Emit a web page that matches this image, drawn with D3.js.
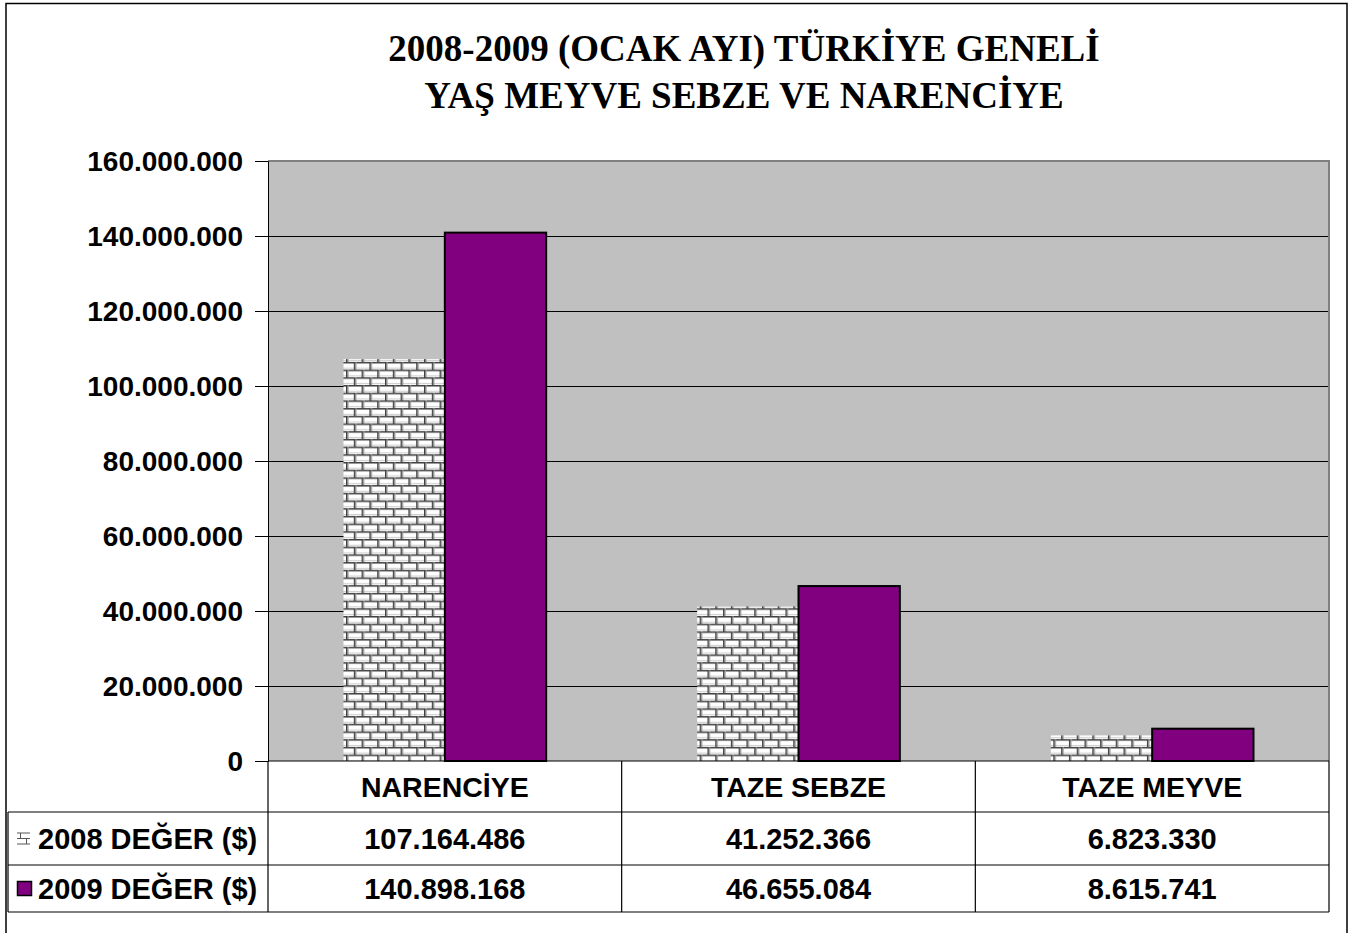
<!DOCTYPE html>
<html>
<head>
<meta charset="utf-8">
<script src="https://cdn.jsdelivr.net/npm/d3@7"></script>
<style>
  html, body { margin: 0; padding: 0; background: #fff; }
  svg { display: block; }
</style>
</head>
<body>
<svg id="chart" width="1352" height="933"></svg>
<script>
const titleLines = ["2008-2009 (OCAK AYI) TÜRKİYE GENELİ", "YAŞ MEYVE SEBZE VE NARENCİYE"];
const categories = ["NARENCİYE", "TAZE SEBZE", "TAZE MEYVE"];
const seriesNames = ["2008 DEĞER ($)", "2009 DEĞER ($)"];
const values2008 = [107164486, 41252366, 6823330];
const values2009 = [140898168, 46655084, 8615741];
const yTicks = [0, 20000000, 40000000, 60000000, 80000000, 100000000, 120000000, 140000000, 160000000];

const seriesValues = [values2008, values2009];

const svg = d3.select("#chart");
const plot = { left: 268, right: 1329, top: 161, bottom: 761 };
const tableRows = [812, 865, 912];
const tableLeft = 8;
const sans = "'Liberation Sans', Arial, sans-serif";
const serif = "'Liberation Serif', 'Times New Roman', serif";

const locale = d3.formatLocale({ decimal: ",", thousands: ".", grouping: [3], currency: ["", "$"] });
const fmt = locale.format(",.0f");

// pattern
const defs = svg.append("defs");
const pw = 15.6, ph = 15.4, rh = ph / 2;
const pat = defs.append("pattern").attr("id", "brick")
  .attr("patternUnits", "userSpaceOnUse").attr("width", pw).attr("height", ph);
pat.append("rect").attr("width", pw).attr("height", ph).attr("fill", "#ffffff");
[0, rh].forEach((y0, i) => {
  pat.append("rect").attr("x", 0).attr("y", y0 + rh - 2).attr("width", pw).attr("height", 1.2).attr("fill", "#d0d0d0");
  pat.append("rect").attr("x", 0).attr("y", y0).attr("width", pw).attr("height", 1.5).attr("fill", "#404040");
  const vx = i === 0 ? [0] : [pw / 2];
  vx.forEach(x => {
    pat.append("rect").attr("x", x).attr("y", y0).attr("width", 1.6).attr("height", rh).attr("fill", "#404040");
    pat.append("rect").attr("x", x + 1.6).attr("y", y0).attr("width", 1).attr("height", rh).attr("fill", "#a0a0a0");
  });
});

const fills = ["url(#brick)", "#800080"];

// outer border
svg.append("path")
  .attr("d", `M6,933 L6,3.5 L1347,3.5 L1347,933`)
  .attr("fill", "none").attr("stroke", "#000").attr("stroke-width", 1.5);

// title
svg.append("g").selectAll("text").data(titleLines).join("text")
  .attr("x", 744).attr("y", (d, i) => 61 + i * 47)
  .attr("text-anchor", "middle")
  .attr("font-family", serif).attr("font-weight", "bold").attr("font-size", 37)
  .text(d => d);

// scales
const x0 = d3.scaleBand().domain(categories).range([plot.left, plot.right]).paddingInner(0).paddingOuter(0);
const x1 = d3.scaleBand().domain(seriesNames).range([0, x0.bandwidth()]).paddingInner(0).paddingOuter(0.745);
const y = d3.scaleLinear().domain([0, 160000000]).range([plot.bottom, plot.top]);

// plot background
svg.append("rect").attr("x", plot.left).attr("y", plot.top)
  .attr("width", plot.right - plot.left).attr("height", plot.bottom - plot.top)
  .attr("fill", "#c0c0c0");

// grid lines
svg.append("g").selectAll("line").data(yTicks.filter(v => v > 0 && v < 160000000)).join("line")
  .attr("x1", plot.left).attr("x2", plot.right)
  .attr("y1", d => Math.round(y(d)) + 0.5).attr("y2", d => Math.round(y(d)) + 0.5)
  .attr("stroke", "#000").attr("stroke-width", 1);

// plot border top/right (grey)
svg.append("path")
  .attr("d", `M${plot.left},${plot.top} L${plot.right},${plot.top} L${plot.right},${plot.bottom}`)
  .attr("fill", "none").attr("stroke", "#808080").attr("stroke-width", 2);

// bars
const groups = svg.append("g").selectAll("g").data(categories).join("g")
  .attr("transform", d => `translate(${x0(d)},0)`);
groups.selectAll("rect").data((c, ci) => seriesNames.map((s, si) => ({ s, si, v: seriesValues[si][ci] })))
  .join("rect")
  .attr("x", d => x1(d.s))
  .attr("width", x1.bandwidth())
  .attr("y", d => y(d.v))
  .attr("height", d => y(0) - y(d.v))
  .attr("fill", d => fills[d.si])
  .attr("stroke", d => d.si === 1 ? "#000" : "none")
  .attr("stroke-width", 2);

// y axis
const yAxis = d3.axisLeft(y).tickValues(yTicks).tickSize(13).tickPadding(12).tickFormat(d => fmt(d));
const ya = svg.append("g").attr("transform", `translate(${plot.left},0)`).call(yAxis);
ya.select(".domain").attr("stroke", "#000").attr("stroke-width", 1);
ya.selectAll(".tick line").attr("stroke", "#000");
ya.selectAll(".tick text").attr("font-family", sans).attr("font-weight", "bold")
  .attr("font-size", 28).attr("fill", "#000").attr("dy", "0.35em");

// data table
const tbl = svg.append("g").attr("stroke", "#000").attr("stroke-width", 1.2);
tbl.append("line").attr("x1", plot.left).attr("x2", plot.right).attr("y1", plot.bottom).attr("y2", plot.bottom);
tableRows.forEach(yy => {
  tbl.append("line").attr("x1", tableLeft).attr("x2", plot.right).attr("y1", yy).attr("y2", yy);
});
tbl.append("line").attr("x1", tableLeft).attr("x2", tableLeft).attr("y1", tableRows[0]).attr("y2", tableRows[2]);
const colEdges = [plot.left, ...categories.map(c => x0(c) + x0.bandwidth())];
colEdges.forEach(xx => {
  tbl.append("line").attr("x1", xx).attr("x2", xx).attr("y1", plot.bottom).attr("y2", tableRows[2]);
});

// category labels
svg.append("g").selectAll("text").data(categories).join("text")
  .attr("x", d => x0(d) + x0.bandwidth() / 2)
  .attr("y", (plot.bottom + tableRows[0]) / 2)
  .attr("dy", "0.36em")
  .attr("text-anchor", "middle")
  .attr("font-family", sans).attr("font-weight", "bold").attr("font-size", 28.5)
  .text(d => d);

// value rows
const rowCenters = [(tableRows[0] + tableRows[1]) / 2, (tableRows[1] + tableRows[2]) / 2];
seriesNames.forEach((s, si) => {
  svg.append("g").selectAll("text").data(categories).join("text")
    .attr("x", d => x0(d) + x0.bandwidth() / 2)
    .attr("y", rowCenters[si])
    .attr("dy", "0.36em")
    .attr("text-anchor", "middle")
    .attr("font-family", sans).attr("font-weight", "bold").attr("font-size", 29)
    .text((d, ci) => fmt(seriesValues[si][ci]));
  if (si === 0) {
    const k = svg.append("g").attr("transform", `translate(17,${rowCenters[si] - 6})`).attr("stroke", "#555").attr("stroke-width", 1).attr("fill", "none");
    k.append("path").attr("d", "M0,0.5 H13 M0,6 H13 M0,11.5 H13 M3.5,0.5 V6 M9.5,6 V11.5");
  } else {
    svg.append("rect").attr("x", 17.5).attr("y", rowCenters[si] - 7)
      .attr("width", 14).attr("height", 14)
      .attr("fill", "#800080").attr("stroke", "#000").attr("stroke-width", 1.5);
  }
  svg.append("text")
    .attr("x", 38).attr("y", rowCenters[si]).attr("dy", "0.36em")
    .attr("font-family", sans).attr("font-weight", "bold").attr("font-size", 29)
    .text(s);
});
</script>
</body>
</html>
